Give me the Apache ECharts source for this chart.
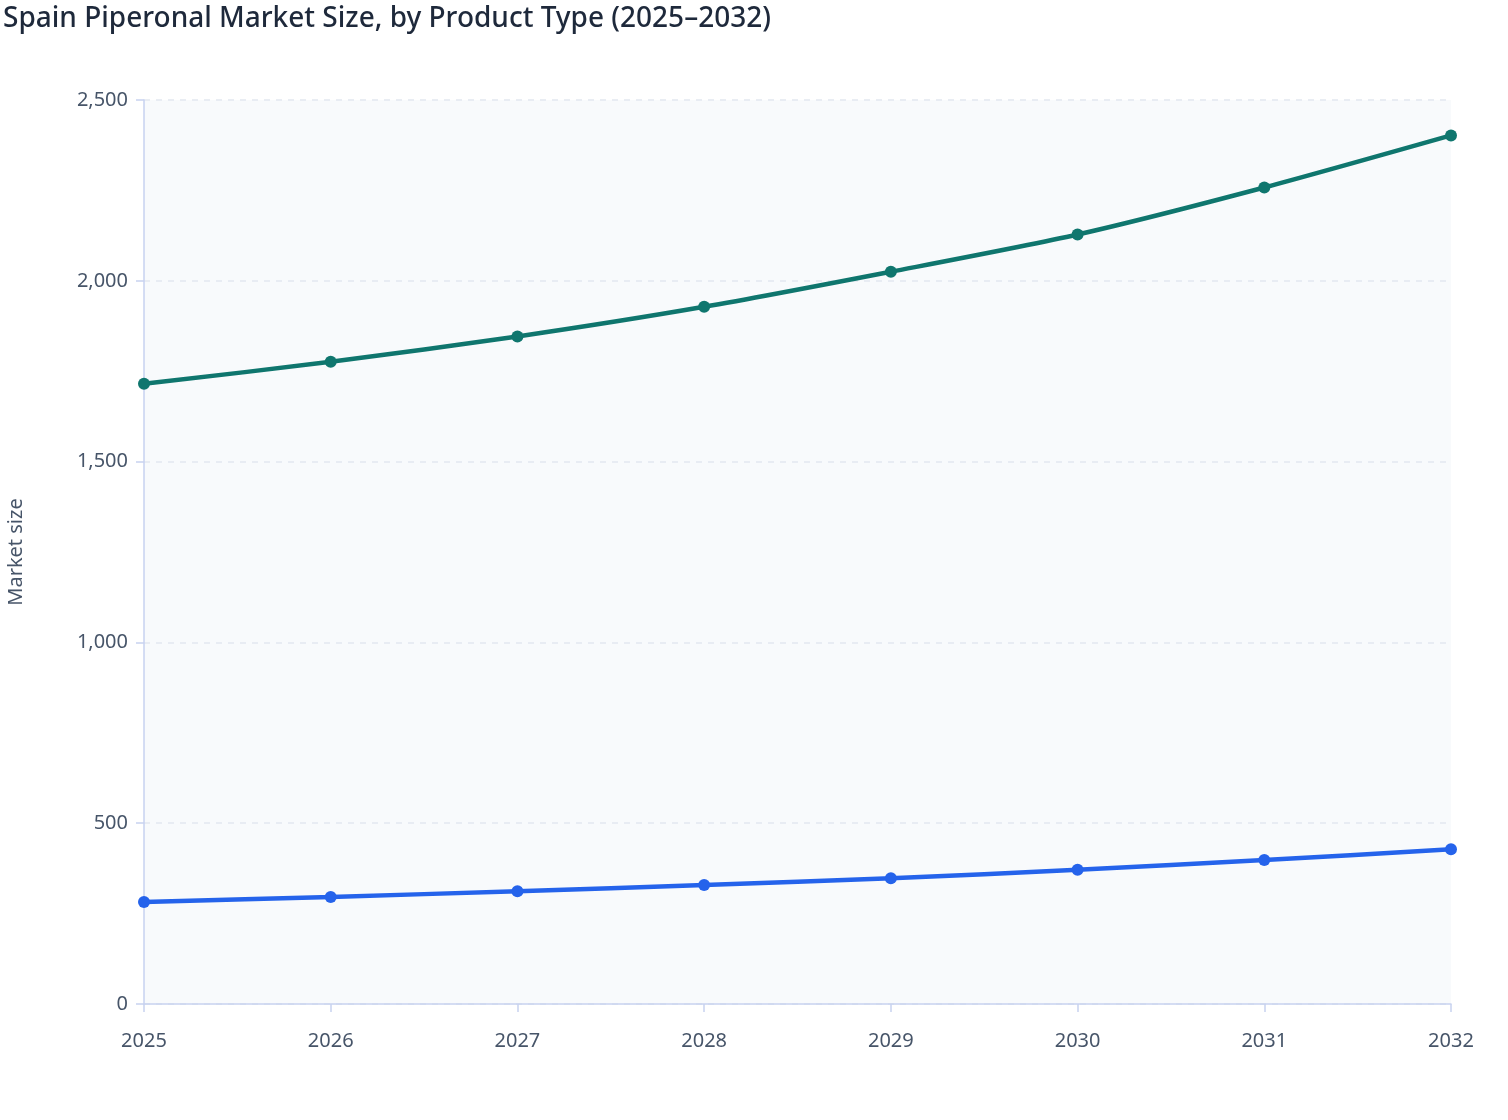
<!DOCTYPE html>
<html><head><meta charset="utf-8">
<script src="https://cdn.jsdelivr.net/npm/echarts@6/dist/echarts.min.js"></script>
<style>html,body{margin:0;padding:0;background:#fff}#c{width:1508px;height:1120px}</style>
</head><body><div id="c"></div>
<script>
const years = ['2025','2026','2027','2028','2029','2030','2031','2032'];
const seriesA = [1715, 1776, 1846, 1928, 2025, 2128, 2258, 2402];
const seriesB = [282, 296, 312, 329, 348, 371, 398, 428];
const yTicks = [0, 500, 1000, 1500, 2000, 2500];

const chart = echarts.init(document.getElementById('c'));
const font = 'Noto Sans';
chart.setOption({
  backgroundColor: '#ffffff',
  title: {
    text: 'Spain Piperonal Market Size, by Product Type (2025–2032)',
    left: -2, top: 0,
    textStyle: {fontFamily: font, fontSize: 28, fontWeight: 500, color: '#1e293b'}
  },
  grid: {left: 144, right: 57, top: 100, bottom: 116, show: true, backgroundColor: '#f8fafc', borderWidth: 0,
    containLabel: false, outerBoundsMode: 'none'},
  xAxis: {
    type: 'category', data: years, boundaryGap: false,
    axisLine: {lineStyle: {color: '#c7d2f0', width: 1.5}},
    axisTick: {show: true, length: 8, lineStyle: {color: '#c7d2f0', width: 1.5}},
    axisLabel: {fontFamily: font, fontSize: 20, color: '#475569', margin: 27},
    splitLine: {show: false}
  },
  yAxis: {
    type: 'value', min: yTicks[0], max: yTicks[yTicks.length-1], interval: 500,
    name: 'Market size', nameLocation: 'middle', nameGap: 118,
    nameTextStyle: {fontFamily: font, fontSize: 20, color: '#475569'},
    axisLine: {show: true, lineStyle: {color: '#c7d2f0', width: 1.5}},
    axisTick: {show: true, length: 8, lineStyle: {color: '#c7d2f0', width: 1.5}},
    axisLabel: {fontFamily: font, fontSize: 20, color: '#475569', margin: 16,
      formatter: v => v.toLocaleString('en-US')},
    splitLine: {show: true, lineStyle: {color: '#e2e8f0', type: [6, 6], width: 1.5}}
  },
  series: [
    {name: 'Synthetic', type: 'line', data: seriesA, smooth: 0.25, symbol: 'circle', symbolSize: 12,
      lineStyle: {color: '#0f766e', width: 4.5}, itemStyle: {color: '#0f766e'}},
    {name: 'Natural', type: 'line', data: seriesB, smooth: 0.25, symbol: 'circle', symbolSize: 12,
      lineStyle: {color: '#2563eb', width: 4.5}, itemStyle: {color: '#2563eb'}}
  ]
});
</script></body></html>
